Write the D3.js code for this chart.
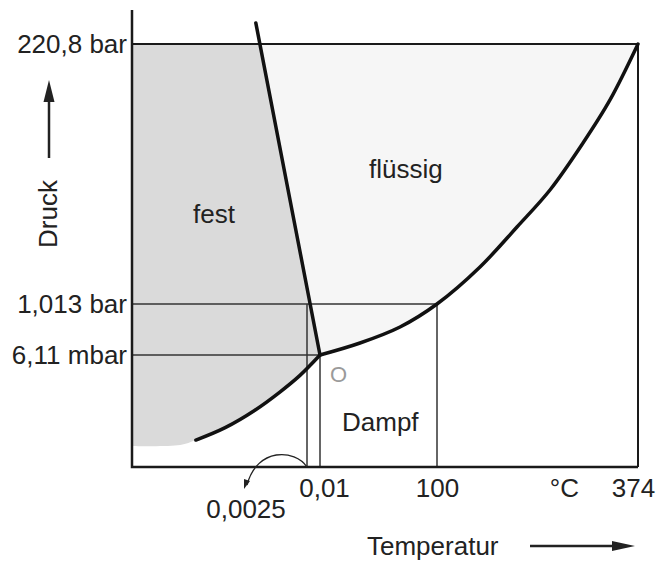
<!DOCTYPE html>
<html>
<head>
<meta charset="utf-8">
<script src="https://cdn.jsdelivr.net/npm/d3@7"></script>
<style>
  body { margin: 0; background: #fff; }
  text { font-family: "Liberation Sans", Arial, sans-serif; fill: #222; }
</style>
</head>
<body>
<div class="draw"></div>
<script>
// values (schematic diagram, piecewise axes)
const tempTicks = [0.01, 100, 374];
const tempLabels = ["0,01", "100", "374"];
const meltPointT = 0.0025;
const meltPointLabel = "0,0025";
const pressTicks = [0.00611, 1.013, 220.8];
const pressLabels = ["6,11 mbar", "1,013 bar", "220,8 bar"];

// sublimation curve (solid <-> vapour), ends at triple point
const sublimT = [-25.4, -18.7, -11.9, -6.2, -1.6, 0.01];
const sublimP = [0.00147, 0.00215, 0.0031, 0.00409, 0.0050, 0.00611];
// vapour pressure curve, triple point -> critical point
const vaporT = [0.01, 34.2, 68.4, 100, 158.6, 209, 254, 299, 335.8, 374];
const vaporP = [0.00611, 0.243, 0.559, 1.013, 32.3, 66.1, 97.4, 137.1, 173.5, 220.8];
// melting curve
const meltT = [-11.7, 0.01];
const meltP = [238.6, 0.00611];
// lower edge of the grey "fest" shading
const solidEdgeT = [-40, -29];
const solidEdgeP = [0.00115, 0.0012];

const svg = d3.select(".draw")
    .append("svg")
    .attr("width", 656)
    .attr("height", 565);

const x = d3.scaleLinear()
    .domain([-40, 0.0025, 0.01, 100, 374])
    .range([132, 307, 320, 437, 638]);
const y = d3.scaleLinear()
    .domain([0, 0.00611, 1.013, 220.8])
    .range([467, 355, 304, 44]);

const tMin = -40, tMax = 374, pMin = 0, pMax = 220.8, pOver = 238.6;

const zip = (ts, ps) => ts.map((t, i) => [t, ps[i]]);
const curve = d3.line()
    .x(d => x(d[0]))
    .y(d => y(d[1]))
    .curve(d3.curveCatmullRom);
const pt = (t, p) => x(t) + "," + y(p);

// clip for the shaded areas
svg.append("clipPath").attr("id", "plot")
  .append("rect")
    .attr("x", x(tMin))
    .attr("y", y(pMax))
    .attr("width", x(tMax) - x(tMin))
    .attr("height", y(pMin) - y(pMax));

const areas = svg.append("g").attr("clip-path", "url(#plot)");

// fest
const solidPts = zip(solidEdgeT, solidEdgeP).concat(zip(sublimT, sublimP));
areas.append("path")
    .attr("fill", "#dadada")
    .attr("d", "M" + pt(tMin, pOver) + "L" + curve(solidPts).slice(1) +
               "L" + pt(meltT[0], meltP[0]) + "Z");

// flüssig
areas.append("path")
    .attr("fill", "#f6f6f6")
    .attr("d", "M" + pt(meltT[0], meltP[0]) + "L" + curve(zip(vaporT, vaporP)).slice(1) +
               "L" + pt(tMax, pOver) + "Z");

// guide lines
const guides = svg.append("g").attr("stroke", "#333").attr("stroke-width", 1.5);
guides.append("line")
    .attr("x1", x(tMin)).attr("x2", x(100))
    .attr("y1", y(1.013)).attr("y2", y(1.013));
guides.append("line")
    .attr("x1", x(tMin)).attr("x2", x(0.01))
    .attr("y1", y(0.00611)).attr("y2", y(0.00611));
guides.append("line")
    .attr("x1", x(100)).attr("x2", x(100))
    .attr("y1", y(1.013)).attr("y2", y(pMin));
guides.append("line")
    .attr("x1", x(meltPointT)).attr("x2", x(meltPointT))
    .attr("y1", y(1.013)).attr("y2", y(pMin));
guides.append("line")
    .attr("x1", x(0.01)).attr("x2", x(0.01))
    .attr("y1", y(0.00611)).attr("y2", y(pMin));

// frame
const frame = svg.append("g").attr("stroke", "#1a1a1a").attr("fill", "none");
frame.append("path")
    .attr("stroke-width", 2)
    .attr("d", "M" + pt(tMin, pMax) + "L" + pt(tMax, pMax) + "L" + pt(tMax, pMin));
frame.append("path")
    .attr("stroke-width", 2.5)
    .attr("d", "M" + x(tMin) + "," + (y(pMax) - 34) + "L" + pt(tMin, pMin) + "L" + pt(tMax, pMin));

// phase boundaries
const bounds = svg.append("g").attr("fill", "none").attr("stroke", "#111")
    .attr("stroke-width", 3.5).attr("stroke-linecap", "round");
bounds.append("path").attr("d", curve(zip(sublimT, sublimP)));
bounds.append("path").attr("d", curve(zip(vaporT, vaporP)));
bounds.append("path").attr("d", d3.line().x(d => x(d[0])).y(d => y(d[1]))(zip(meltT, meltP)));

// axes
const yAxis = d3.axisLeft(y)
    .tickValues(pressTicks)
    .tickFormat((d, i) => pressLabels[i])
    .tickSize(0)
    .tickPadding(5);
const yAxisGroup = svg.append("g")
    .attr("transform", `translate(${x(tMin)}, 0)`)
    .call(yAxis);

const xAxis = d3.axisBottom(x)
    .tickValues(tempTicks)
    .tickFormat((d, i) => tempLabels[i])
    .tickSize(0)
    .tickPadding(12);
const xAxisGroup = svg.append("g")
    .attr("transform", `translate(0, ${y(pMin)})`)
    .call(xAxis);

[yAxisGroup, xAxisGroup].forEach(g => {
  g.select(".domain").remove();
  g.selectAll("text")
    .style("font-family", '"Liberation Sans", Arial, sans-serif')
    .style("font-size", "26px")
    .attr("fill", "#222");
});
xAxisGroup.selectAll("text").attr("dx", (d, i) => [4, 0, -5][i]);

svg.append("text")
    .attr("x", 579).attr("y", 497)
    .attr("text-anchor", "end")
    .style("font-size", "26px")
    .text("°C");

// 0,0025 label with curved pointer
svg.append("text")
    .attr("x", 246).attr("y", 518)
    .attr("text-anchor", "middle")
    .style("font-size", "26px")
    .text(meltPointLabel);
svg.append("path")
    .attr("fill", "none").attr("stroke", "#222").attr("stroke-width", 1.3)
    .attr("d", `M${x(meltPointT)},${y(pMin)} C${x(meltPointT) - 12},${y(pMin) - 18} ${x(meltPointT) - 50},${y(pMin) - 20} ${x(meltPointT) - 60},${y(pMin) + 18}`);
svg.append("path")
    .attr("fill", "#222")
    .attr("d", `M${x(meltPointT) - 63},${y(pMin) + 22} L${x(meltPointT) - 63},${y(pMin) + 12} L${x(meltPointT) - 57},${y(pMin) + 14} Z`);

// region labels
const region = (tx, ty, s, col, size) => svg.append("text")
    .attr("x", tx).attr("y", ty)
    .style("font-size", size || "26px")
    .style("fill", col || "#222")
    .text(s);
region(193, 223, "fest");
region(369, 178, "flüssig");
region(342, 431, "Dampf");
region(330, 382, "O", "#9a9a9a", "22px");

// axis titles with arrows
svg.append("text")
    .attr("transform", "translate(57, 248) rotate(-90)")
    .style("font-size", "26px")
    .text("Druck");
svg.append("line")
    .attr("x1", 49).attr("x2", 49).attr("y1", 158).attr("y2", 98)
    .attr("stroke", "#222").attr("stroke-width", 2.5);
svg.append("path").attr("fill", "#222").attr("d", "M49,80 L43.5,102 L54.5,102 Z");

svg.append("text")
    .attr("x", 367).attr("y", 555)
    .style("font-size", "26px")
    .text("Temperatur");
svg.append("line")
    .attr("x1", 530).attr("x2", 615).attr("y1", 546).attr("y2", 546)
    .attr("stroke", "#222").attr("stroke-width", 2.5);
svg.append("path").attr("fill", "#222").attr("d", "M635,546 L612,541 L612,551 Z");
</script>
</body>
</html>
